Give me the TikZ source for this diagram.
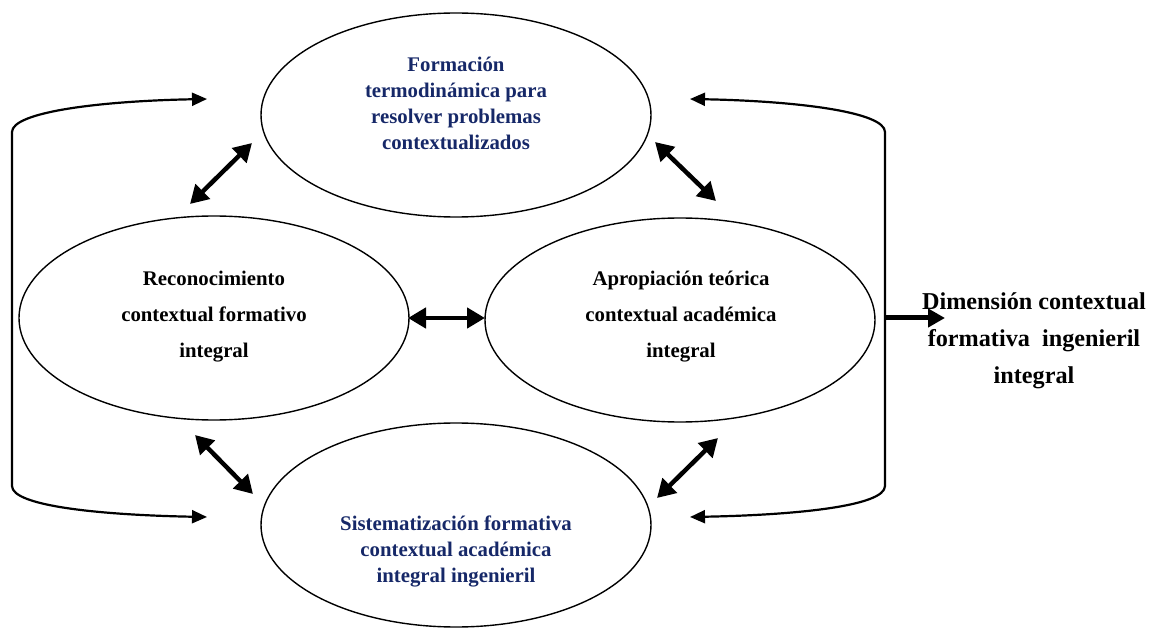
\documentclass[tikz,border=0pt]{standalone}
\usepackage{fontspec}
\setmainfont{Liberation Serif}
\usetikzlibrary{shapes.geometric,arrows.meta}
\definecolor{navy}{RGB}{22,40,104}
\begin{document}
\begin{tikzpicture}[x=1pt,y=-1pt,
  stage/.style={draw, ellipse, line width=1.4pt, minimum width=390pt,
    minimum height=204pt, inner sep=0pt},
  stagetext/.style={align=center, inner sep=0pt,
    font=\bfseries\fontsize{20.8}{36}\selectfont},
  bluetext/.style={stagetext, text=navy,
    font=\bfseries\fontsize{20.8}{26}\selectfont},
  dimtext/.style={align=center, inner sep=0pt,
    font=\bfseries\fontsize{24.2}{37}\selectfont},
  duo/.style={{Triangle[length=18pt,width=20pt]}-{Triangle[length=18pt,width=20pt]},
    line width=4.5pt},
  loop/.style={{Triangle[length=15pt,width=13pt]}-{Triangle[length=15pt,width=13pt]},
    line width=2.2pt},
  outarrow/.style={-{Triangle[length=17pt,width=18pt]}, line width=5pt}
]
\useasboundingbox (0,0) rectangle (1157,628);

% the four stages
\node[stage] (top) at (456,115) {};
\node[stage] (left) at (214,318) {};
\node[stage] (right) at (680,320) {};
\node[stage] (bottom) at (456,525) {};

\node[bluetext] (topT) at (456,103)
  {Formación\\termodinámica para\\resolver problemas\\contextualizados};
\node[stagetext] (leftT) at (214,317)
  {Reconocimiento\\contextual formativo\\integral};
\node[stagetext] (rightT) at (681,317)
  {Apropiación teórica\\contextual académica\\integral};
\node[bluetext] (bottomT) at (456,551)
  {Sistematización formativa\\contextual académica\\integral ingenieril};

\node[dimtext] (dim) at (1034,341)
  {Dimensión contextual\\formativa\ \ ingenieril\\integral};

% ends of the two-way links between neighbouring stages
\coordinate (tlA) at (190,204);  \coordinate (tlB) at (252,143);
\coordinate (trA) at (655,142);  \coordinate (trB) at (716,201);
\coordinate (mA)  at (408,318);  \coordinate (mB)  at (485,318);
\coordinate (blA) at (195,435);  \coordinate (blB) at (253,494);
\coordinate (brA) at (718,438);  \coordinate (brB) at (657,498);

\draw[duo] (tlA) -- (tlB);
\draw[duo] (trA) -- (trB);
\draw[duo] (mA) -- (mB);
\draw[duo] (blA) -- (blB);
\draw[duo] (brA) -- (brB);

% outer feedback loops
\coordinate (lTopTip) at (207,99);
\coordinate (lBotTip) at (207,517);
\coordinate (lTop) at (12,132);
\coordinate (lBot) at (12,486);
\draw[loop] (lTopTip) .. controls (100,101) and (12,112) .. (lTop)
  -- (lBot) .. controls (12,506) and (100,515) .. (lBotTip);

\coordinate (rTopTip) at (690,99);
\coordinate (rBotTip) at (690,517);
\coordinate (rTop) at (885,132);
\coordinate (rBot) at (885,486);
\draw[loop] (rTopTip) .. controls (797,101) and (885,112) .. (rTop)
  -- (rBot) .. controls (885,506) and (797,515) .. (rBotTip);

% result
\coordinate (rMid) at (885,318);
\coordinate (outTip) at (945,318);
\draw[outarrow] (rMid) -- (outTip);
\end{tikzpicture}
\end{document}
